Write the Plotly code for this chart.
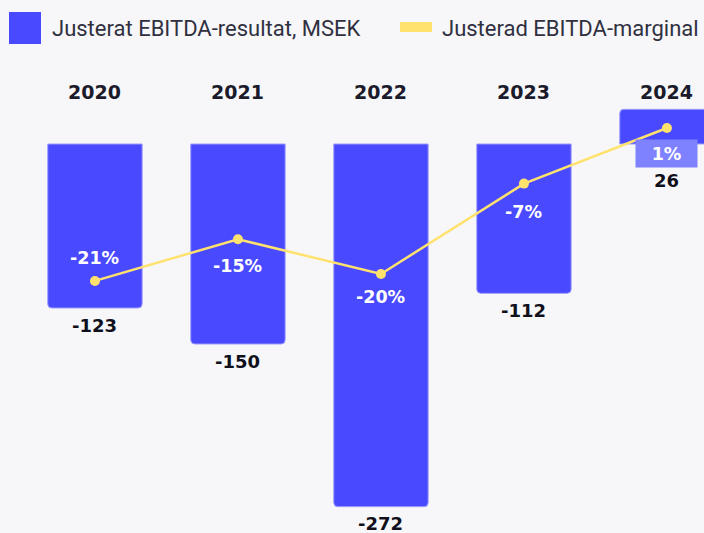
import plotly.graph_objects as go

years = ["2020", "2021", "2022", "2023", "2024"]
ebitda = [-123, -150, -272, -112, 26]
margin_pct = [-21, -15, -20, -7, 1]

W, H = 704, 533
BLUE = "#4949ff"
YELLOW = "#ffe26e"
DARK = "#1b1b2b"
BG = "#f7f7fa"


def px(x):
    return x / W


def py(y):
    return 1 - y / H


fig = go.Figure()

fig.add_trace(go.Bar(
    x=years, y=ebitda, width=0.66,
    marker=dict(color=BLUE, line=dict(color="#9d9dff", width=1), cornerradius=4),
    showlegend=False, hoverinfo="skip",
))

fig.add_trace(go.Scatter(
    x=years, y=margin_pct, yaxis="y2", mode="lines+markers",
    line=dict(color=YELLOW, width=2.5),
    marker=dict(color=YELLOW, size=10),
    showlegend=False, hoverinfo="skip",
))

annotations = []

# year labels above the chart
for i, yr in enumerate(years):
    annotations.append(dict(
        x=i, y=py(92), xref="x", yref="paper", yanchor="middle", text=f"<b>{yr}</b>",
        showarrow=False, font=dict(family="DejaVu Sans", size=19, color=DARK),
    ))

# value labels under the bars
for i, v in enumerate(ebitda):
    annotations.append(dict(
        x=i, y=min(v, 0), xref="x", yref="y", yanchor="middle", text=f"<b>{v}</b>",
        showarrow=False, yshift=-17 if v < 0 else -36,
        font=dict(family="DejaVu Sans", size=18, color="#10101c"),
    ))

# margin labels next to the line points
pct_shift = [23, -27, -23, -28, -25]
for i, (m, s) in enumerate(zip(margin_pct, pct_shift)):
    a = dict(
        x=i, y=m, xref="x", yref="y2", yanchor="middle", text=f"<b>{m}%</b>",
        showarrow=False, yshift=s,
        font=dict(family="DejaVu Sans", size=17.5, color="white"),
    )
    if m > 0:
        a.update(bgcolor="#7e82ff", width=59, height=25)
    annotations.append(a)

# legend
shapes = [
    dict(type="rect", xref="paper", yref="paper", x0=px(9), x1=px(41), y0=py(44), y1=py(12),
         fillcolor=BLUE, line=dict(width=0)),
    dict(type="rect", xref="paper", yref="paper", x0=px(400), x1=px(432), y0=py(32), y1=py(22),
         fillcolor=YELLOW, line=dict(width=0)),
]
for x0, label in [(50, "Justerat EBITDA-resultat, MSEK"), (440, "Justerad EBITDA-marginal")]:
    annotations.append(dict(
        x=px(x0), y=py(28), xref="paper", yref="paper", text=label,
        xanchor="left", yanchor="middle",
        showarrow=False, font=dict(family="Roboto", size=22, color="#30303f"),
    ))

hidden = dict(showticklabels=False, showgrid=False, zeroline=False, showline=False, ticks="")

fig.update_layout(
    width=W, height=H,
    margin=dict(l=0, r=0, t=0, b=0),
    paper_bgcolor=BG, plot_bgcolor=BG,
    xaxis=dict(type="category", range=[-0.664, 4.259], **hidden),
    yaxis=dict(range=[-291.75, 108], **hidden),
    yaxis2=dict(range=[-57.27, 19.42], overlaying="y", **hidden),
    annotations=annotations, shapes=shapes,
)

fig.write_html("out.html", config={"displayModeBar": False},
               post_script="document.body.style.margin='0';")
